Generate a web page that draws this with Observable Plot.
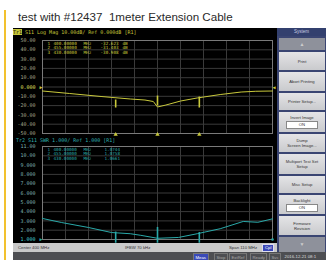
<!DOCTYPE html>
<html><head><meta charset="utf-8">
<script src="https://cdn.jsdelivr.net/npm/d3@7"></script>
<script src="https://cdn.jsdelivr.net/npm/@observablehq/plot@0.6"></script>
<style>
html,body{margin:0;padding:0;background:#fff;}
body{width:326px;height:260px;position:relative;overflow:hidden;font-family:"Liberation Sans",Arial,sans-serif;}
.a{position:absolute;}
#ybar{left:4px;top:10px;width:2px;height:250px;background:#f2c12e;}
#title{left:18px;top:10px;font-size:11.6px;color:#2a2a2a;white-space:pre;line-height:14px;}
#screen{left:13px;top:28px;width:265px;height:215px;background:#000;}
.hd{font-family:"DejaVu Sans Mono",monospace;font-size:5px;white-space:pre;line-height:6px;}
#h1{left:13px;top:29px;color:#c8c83a;}
#h1 b{background:#c8c83a;color:#111;font-weight:normal;}
#h2{left:16px;top:137px;color:#2fb0b0;}
#panel{left:277px;top:28px;width:49px;height:224px;background:#3a4572;}
.btn{position:absolute;left:2px;width:46px;background:linear-gradient(#e4e4e6,#c9cacd);color:#333;font-size:4.2px;text-align:center;display:flex;flex-direction:column;justify-content:center;align-items:center;line-height:5px;}
.arrow{background:#8e919b;color:#ccc;font-size:5px;}
.on{background:#fff;border:0.5px solid #888;width:30px;height:6px;line-height:6px;margin-top:1px;}
#phdr{left:0;top:0;width:49px;height:8px;background:#33406e;color:#c8cce0;font-size:4.5px;text-align:center;line-height:8px;}
#status{left:13px;top:243px;width:264px;height:9px;background:#c9c9c9;color:#333;font-size:4.3px;line-height:9px;}
#status span{position:absolute;white-space:pre;}
#cpl{background:#3a48b8;color:#fff;border:0.5px solid #dde;line-height:6px;top:1px;padding:0 2px;}
#bottom{left:13px;top:252px;width:313px;height:8px;background:#4d4e52;font-size:4.3px;line-height:7px;}
#bottom span{position:absolute;top:0.5px;white-space:pre;color:#aaa;border:0.5px solid #777;padding:0 1.5px;}
#bottom .meas{background:#3a4ab8;color:#fff;}
#bottom .date{border:none;color:#ddd;}
</style></head><body>
<div class="a" id="ybar"></div>
<div class="a" id="title">test with #12437  1meter Extension Cable</div>
<div class="a" id="screen"></div>
<div class="a" id="up"></div>
<div class="a" id="lo"></div>
<div class="a hd" id="h1"><b>Tr1</b> S11 Log Mag 10.00dB/ Ref 0.000dB [R1]</div>
<div class="a hd" id="h2">Tr2 S11 SWR 1.000/ Ref 1.000 [R1]</div>
<div class="a" id="status">
  <span style="left:5px">Center 400 MHz</span>
  <span style="left:112px">IFBW 70 kHz</span>
  <span style="left:216px">Span 110 MHz</span>
  <span id="cpl" style="left:249px">Cpl</span>
</div>
<div class="a" id="bottom">
  <span class="meas" style="left:180px">Meas</span>
  <span style="left:201px">Stop</span>
  <span style="left:216px">ExtRef</span>
  <span style="left:237px">Ready</span>
  <span style="left:256px">Svc</span>
  <span class="date" style="left:270px">2016-12-21 08:1</span>
</div>
<div class="a" id="panel">
  <div class="a" id="phdr">System</div>
  <div class="btn arrow" style="top:10px;height:12px">▲</div>
  <div class="btn" style="top:24px;height:18px">Print</div>
  <div class="btn" style="top:44px;height:19px">Abort Printing</div>
  <div class="btn" style="top:65px;height:17px">Printer Setup...</div>
  <div class="btn" style="top:84px;height:20px">Invert Image<div class="on">ON</div></div>
  <div class="btn" style="top:106px;height:18px">Dump<br>Screen Image...</div>
  <div class="btn" style="top:126px;height:20px">Multiport Test Set<br>Setup</div>
  <div class="btn" style="top:148px;height:17px">Misc Setup</div>
  <div class="btn" style="top:167px;height:19px">Backlight<div class="on">ON</div></div>
  <div class="btn" style="top:188px;height:19px">Firmware<br>Revision</div>
  <div class="btn arrow" style="top:209px;height:15px">▼</div>
</div>
<script>
// stimulus (MHz)
const freqTicks = [345,356,367,378,389,400,411,422,433,444,455];
// Tr1 Log Mag (dB)
const dbTicks = [50,40,30,20,10,0,-10,-20,-30,-40,-50];
// Tr2 SWR
const swrTicks = [11,10,9,8,7,6,5,4,3,2,1];

const dbFreq  = [345,358,373,387,394,398,400,404,411,419,430,440,447,455];
const dbVals  = [-4.3,-7.0,-10.2,-12.9,-14.0,-15.6,-21.5,-19.4,-15.1,-11.8,-8.1,-5.4,-4.6,-4.3];

const swrFreq = [345,354,367,378,387,392,400,410,419,430,441,448,455];
const swrVals = [3.26,2.83,2.29,1.75,1.62,1.45,1.13,1.22,1.62,2.16,2.94,2.85,3.22];

const markerFreq = [380,400,420];
const dbMarkTop = [-14,-9.7,-10.8];
const dbMarkBot = [-22.6,-20.4,-22.6];
const swrMarkTop = [1.8,2.3,1.75];
const swrMarkBot = [0.6,0.6,0.6];

const markerNums = ["1","2","3"];
const markerFreqText = ["400.00000","455.00000","430.00000"];
const dbReadout = ["-32.623","-31.403","-30.908"];
const swrReadout = ["1.0744","1.0758","1.0661"];

const YEL = "#c9c93c", CYA = "#2aa9a9", GRID = "#3a3a3a", FRAME = "#7a7a7a";
const fmt = d => d.toPrecision(4);
const mono = "DejaVu Sans Mono, monospace";

function readouts(fill, vals, unit, valDx) {
  const o = {frameAnchor: "top-left", dy: 1, lineHeight: 1.05, fontSize: 4.3, fill, fontFamily: mono};
  return [
    Plot.text([markerNums.join("\n")], {...o, dx: 5}),
    Plot.text([markerFreqText.join("\n")], {...o, dx: 11}),
    Plot.text([markerNums.map(() => "MHz").join("\n")], {...o, dx: 41}),
    Plot.text([vals.join("\n")], {...o, dx: valDx}),
    ...(unit ? [Plot.text([markerNums.map(() => unit).join("\n")], {...o, dx: 80})] : [])
  ];
}

const upper = Plot.plot({
  width: 264, height: 110,
  marginLeft: 29, marginRight: 5, marginTop: 12, marginBottom: 5,
  style: {background: "transparent", fontFamily: mono, fontSize: "5px", overflow: "visible"},
  x: {domain: [345, 455], axis: null},
  y: {domain: [-50, 50], axis: null},
  marks: [
    Plot.gridX(freqTicks, {stroke: GRID, strokeOpacity: 1}),
    Plot.gridY(dbTicks, {stroke: GRID, strokeOpacity: 1}),
    Plot.frame({stroke: FRAME}),
    Plot.axisY(dbTicks.filter(d => d !== 0), {tickSize: 0, tickPadding: 7, tickFormat: fmt, fill: "#a9a98e", fontSize: 5}),
    Plot.axisY([0], {tickSize: 0, tickPadding: 7, tickFormat: fmt, fill: "#e0e060", fontSize: 5}),
    Plot.text([0], {y: d => d, frameAnchor: "left", text: () => "▶", textAnchor: "end", fill: YEL, fontSize: 5}),
    Plot.text([0], {y: d => d, frameAnchor: "right", text: () => "◀", textAnchor: "start", fill: YEL, fontSize: 5}),
    Plot.line(dbVals, {x: dbFreq, y: dbVals, stroke: YEL, strokeWidth: 1}),
    Plot.ruleX(markerFreq, {x: d => d, y1: dbMarkTop, y2: dbMarkBot, stroke: YEL, strokeWidth: 1.6}),
    Plot.dot(markerFreq, {x: d => d, frameAnchor: "bottom", symbol: "triangle", r: 1.6, fill: YEL, dy: 1}),
    ...readouts(YEL, dbReadout, "dB", 58)
  ]
});
document.getElementById("up").style.cssText = "left:13px;top:28px";
document.getElementById("up").appendChild(upper);

const lower = Plot.plot({
  width: 264, height: 105,
  marginLeft: 29, marginRight: 5, marginTop: 8, marginBottom: 4,
  style: {background: "transparent", fontFamily: mono, fontSize: "5px", overflow: "visible"},
  x: {domain: [345, 455], axis: null},
  y: {domain: [1, 11], axis: null},
  marks: [
    Plot.gridX(freqTicks, {stroke: GRID, strokeOpacity: 1}),
    Plot.gridY(swrTicks, {stroke: GRID, strokeOpacity: 1}),
    Plot.frame({stroke: FRAME}),
    Plot.axisY(swrTicks.filter(d => d !== 1), {tickSize: 0, tickPadding: 7, tickFormat: fmt, fill: "#7fb3b3", fontSize: 5}),
    Plot.axisY([1], {tickSize: 0, tickPadding: 7, tickFormat: fmt, fill: "#40d0d0", fontSize: 5}),
    Plot.text([1], {y: d => d, frameAnchor: "left", text: () => "▶", textAnchor: "end", fill: CYA, fontSize: 5}),
    Plot.dot([1], {y: d => d, frameAnchor: "right", r: 1.3, fill: CYA}),
    Plot.line(swrVals, {x: swrFreq, y: swrVals, stroke: CYA, strokeWidth: 1}),
    Plot.ruleX(markerFreq, {x: d => d, y1: swrMarkTop, y2: swrMarkBot, stroke: CYA, strokeWidth: 1.6}),
    ...readouts(CYA, swrReadout, null, 62)
  ]
});
document.getElementById("lo").style.cssText = "left:13px;top:138px";
document.getElementById("lo").appendChild(lower);
</script>
</body></html>
